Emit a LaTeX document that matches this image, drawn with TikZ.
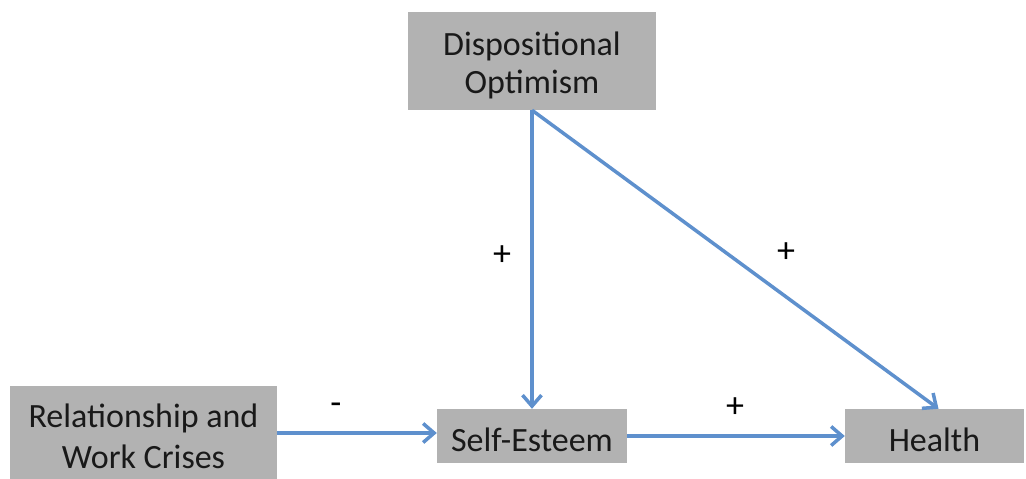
\documentclass[tikz,border=0pt]{standalone}
\usepackage{fontspec}
\setmainfont{Carlito}
\usetikzlibrary{arrows.meta,calc}
\definecolor{boxgray}{RGB}{178,178,178}
\definecolor{arrowblue}{RGB}{94,144,205}
\newcommand{\boxtext}[2]{\raisebox{-#1}[\height][\depth]{\begin{tabular}{@{}c@{}}#2\end{tabular}}}
\begin{document}
\begin{tikzpicture}[x=1pt,y=-1pt,
  box/.style={fill=boxgray,draw=none,inner sep=0pt,font=\fontsize{34}{38}\selectfont,text=black!90},
  link/.style={draw=arrowblue,line width=3.5pt,-{Straight Barb[length=11pt,width=19pt,line width=3.5pt]}},
  sign/.style={font=\fontsize{36}{38}\selectfont}]
\useasboundingbox (0,0) rectangle (1026,479);
\node[box,minimum width=248pt,minimum height=98pt] (opt) at (532,61) {\boxtext{5.4pt}{Dispositional\\Optimism}};
\node[box,minimum width=267pt,minimum height=94pt,font=\fontsize{34}{41}\selectfont] (rel) at (143.5,433) {\boxtext{6.3pt}{Relationship and\\Work Crises}};
\node[box,minimum width=190pt,minimum height=54pt] (se) at (532,436) {\boxtext{8pt}{Self-Esteem}};
\node[box,minimum width=179pt,minimum height=54pt] (health) at (934.5,436) {\boxtext{8pt}{Health}};
\draw[link] (opt.south) -- (se.north);
\draw[link] (opt.south) -- ([xshift=4pt]health.north);
\draw[link] (rel.east) -- (rel.east -| se.west);
\draw[link] (se.east) -- (health.west);
\node[sign] (p1) at (502,256) {+};
\node[sign] (p2) at (786,253) {+};
\node[sign] (m1) at (336,409) {-};
\node[sign] (p3) at (735,408) {+};
\end{tikzpicture}
\end{document}
